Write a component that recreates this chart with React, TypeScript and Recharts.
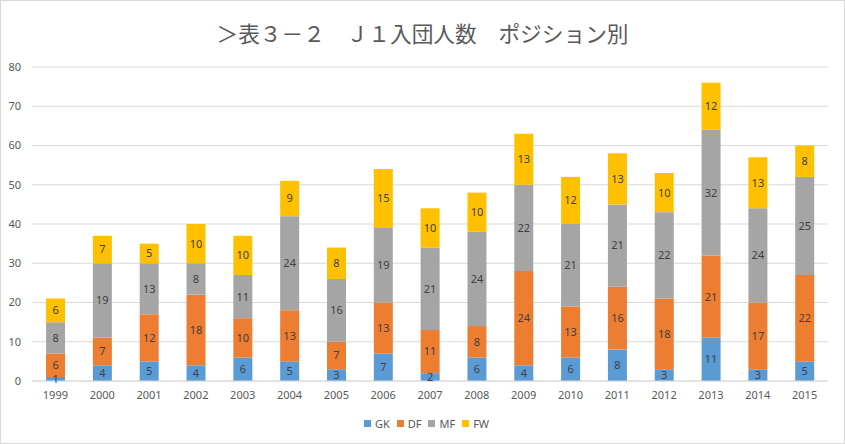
import React from "react";
import { BarChart, Bar, XAxis, YAxis, CartesianGrid, Legend, LabelList } from "recharts";

const years = ["1999","2000","2001","2002","2003","2004","2005","2006","2007","2008","2009","2010","2011","2012","2013","2014","2015"];
const gk = [1,4,5,4,6,5,3,7,2,6,4,6,8,3,11,3,5];
const df = [6,7,12,18,10,13,7,13,11,8,24,13,16,18,21,17,22];
const mf = [8,19,13,8,11,24,16,19,21,24,22,21,21,22,32,24,25];
const fw = [6,7,5,10,10,9,8,15,10,10,13,12,13,10,12,13,8];
const yTicks = [0,10,20,30,40,50,60,70,80];

const series = [
  { key: "GK", color: "#5B9BD5", values: gk },
  { key: "DF", color: "#ED7D31", values: df },
  { key: "MF", color: "#A5A5A5", values: mf },
  { key: "FW", color: "#FFC000", values: fw },
];

const data = years.map((y, i) => {
  const row: any = { year: y };
  series.forEach((s) => { row[s.key] = s.values[i]; });
  return row;
});

const FONT = '"Segoe UI", "Noto Sans", "Open Sans", sans-serif';

const LegendContent = () => (
  <div style={{ display: "flex", justifyContent: "center", alignItems: "center", gap: 7, height: 18, fontFamily: FONT, fontSize: 11, color: "#595959", paddingLeft: 8 }}>
    {series.map((s) => (
      <div key={s.key} style={{ display: "flex", alignItems: "center" }}>
        <span style={{ display: "inline-block", width: 7, height: 7, background: s.color, marginRight: 4 }} />
        <span>{s.key}</span>
      </div>
    ))}
  </div>
);

export default function App() {
  return (
    <div style={{ position: "absolute", left: 0, top: 0, width: 845, height: 444, background: "#fff" }}>
      <div style={{ position: "absolute", left: 0, top: 0, width: 845, height: 444, boxSizing: "border-box", border: "1px solid #d9d9d9" }} />
      <div style={{ position: "absolute", left: 0, top: 19, width: 845, textAlign: "center", fontFamily: '"Noto Sans CJK JP", sans-serif', fontSize: 21.7, color: "#595959", lineHeight: "28px" }}>
        ＞表３－２　Ｊ１入団人数　ポジション別
      </div>
      <BarChart width={845} height={444} data={data} margin={{ top: 67, right: 17, left: 0, bottom: 15 }} barCategoryGap="30%">
        <CartesianGrid vertical={false} stroke="#d9d9d9" />
        <XAxis dataKey="year" axisLine={{ stroke: "#d9d9d9" }} tickLine={false} tickMargin={4} height={30}
          tick={{ fill: "#595959", fontSize: 11, fontFamily: FONT }} />
        <YAxis width={32} domain={[0, 80]} ticks={yTicks} axisLine={false} tickLine={false} tickMargin={5}
          tick={{ fill: "#595959", fontSize: 11, fontFamily: FONT }} />
        <Legend verticalAlign="bottom" content={<LegendContent />} wrapperStyle={{ top: 414, left: 0, width: 845 }} />
        {series.map((s) => (
          <Bar key={s.key} dataKey={s.key} stackId="a" fill={s.color} isAnimationActive={false}>
            <LabelList dataKey={s.key} position="center" fill="#404040" fontSize={11} fontFamily={FONT} />
          </Bar>
        ))}
      </BarChart>
    </div>
  );
}
